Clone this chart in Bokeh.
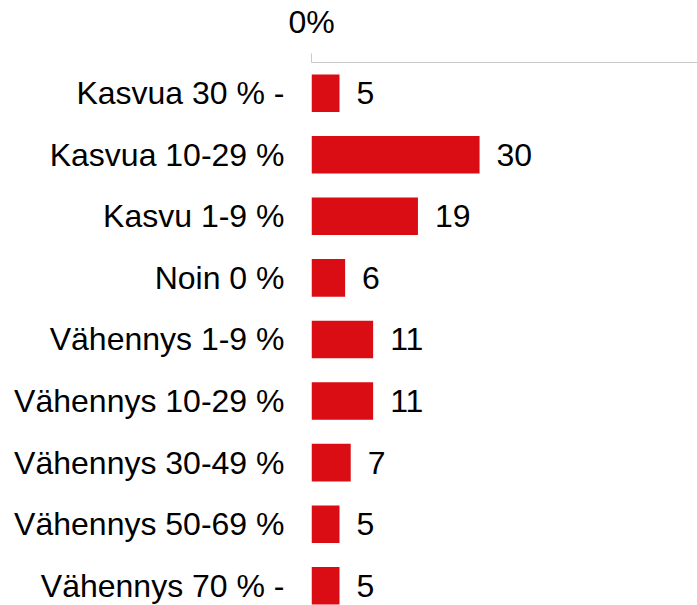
from bokeh.plotting import figure
from bokeh.models import Range1d, FixedTicker, ColumnDataSource
from bokeh.core.properties import value
from bokeh.embed import file_html
from bokeh.resources import INLINE

categories = ["Kasvua 30 % -", "Kasvua 10-29 %", "Kasvu 1-9 %", "Noin 0 %",
              "Vähennys 1-9 %", "Vähennys 10-29 %", "Vähennys 30-49 %",
              "Vähennys 50-69 %", "Vähennys 70 % -"]
values = [5, 30, 19, 6, 11, 11, 7, 5, 5]
x_ticks = [0]
x_tick_labels = {0: "0%"}

FONT = "Liberation Sans"
RED = "#da0d15"
FS = "32px"

pos = list(range(len(categories)))
src = ColumnDataSource(dict(y=pos, v=values, lab=[str(v) for v in values]))

p = figure(width=697, height=605, output_backend="svg", toolbar_location=None,
           x_range=Range1d(0, 68.9), y_range=Range1d(8.32, -0.498),
           x_axis_location="above", min_border_left=311, min_border_top=56,
           min_border_right=0, min_border_bottom=0)
p.outline_line_color = None
p.grid.visible = False
p.background_fill_color = "white"
p.border_fill_color = "white"

p.hbar(y="y", left=0, right="v", height=0.61, source=src,
       fill_color=RED, line_color=None)
p.text(x="v", y="y", text="lab", source=src, x_offset=17,
       text_align="left", text_baseline="middle",
       text_font=value(FONT), text_font_size=FS, text_color="black")

xa = p.xaxis[0]
xa.ticker = FixedTicker(ticks=x_ticks)
xa.major_label_overrides = x_tick_labels
xa.axis_line_color = "#c8c8c8"
xa.major_tick_line_color = "#c8c8c8"
xa.major_tick_out = 9
xa.major_tick_in = 0
xa.minor_tick_line_color = None
xa.major_label_standoff = 14
xa.major_label_text_font = FONT
xa.major_label_text_font_size = FS
xa.major_label_text_color = "black"

ya = p.yaxis[0]
ya.ticker = FixedTicker(ticks=pos)
ya.major_label_overrides = {i: c for i, c in zip(pos, categories)}
ya.axis_line_color = None
ya.major_tick_line_color = None
ya.minor_tick_line_color = None
ya.major_label_standoff = 21
ya.major_label_text_font = FONT
ya.major_label_text_font_size = FS
ya.major_label_text_color = "black"

open("out.html", "w").write(file_html(p, INLINE))
